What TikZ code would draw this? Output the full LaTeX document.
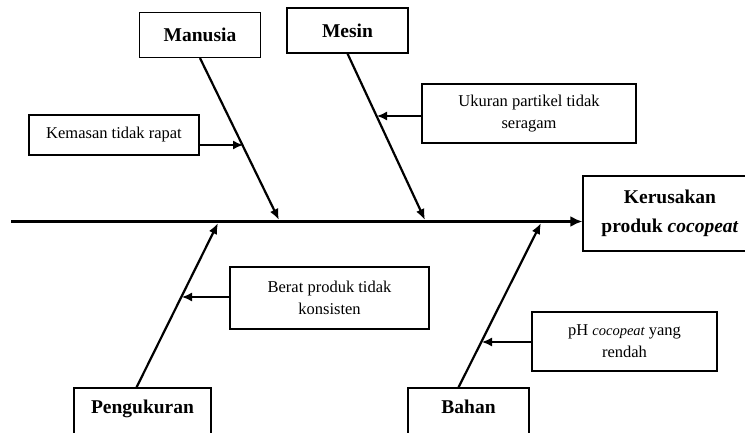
\documentclass[tikz,border=0pt]{standalone}
\usepackage{fontspec}
\setmainfont{Liberation Serif}
\usetikzlibrary{arrows.meta}

\begin{document}
\begin{tikzpicture}[x=1pt,y=-1pt]
    \tikzstyle{every node}=[draw,line width=1.2pt,inner sep=0pt,align=center]
    \tikzstyle{cause}=[font=\fontsize{19.5}{29}\selectfont\bfseries,minimum width=121pt,minimum height=45pt]
    \tikzstyle{base cause}=[cause,minimum height=0pt,text height=25pt,text depth=35pt,anchor=base]
    \tikzstyle{sub}=[font=\fontsize{16.5}{22}\selectfont]
    \tikzstyle{bone}=[line width=2.2pt,-{Latex[length=11pt,width=9pt]}]
    \tikzstyle{twig}=[line width=1.5pt,-{Latex[length=10pt,width=9pt]}]
    \clip (0,0) rectangle (745,433);
    % kepala dan kategori
    \node[cause,minimum width=174pt,minimum height=75pt] (akibat) at (670,213.5) {Kerusakan\\produk \textit{cocopeat}};
    \node[cause] (man) at (200,35) {Manusia};
    \node[cause] (msn) at (347.5,30.5) {Mesin};
    \node[base cause,minimum width=137pt] (ukr) at (142.5,413) {Pengukuran};
    \node[base cause] (bhn) at (468.5,413) {Bahan};
    % sebab
    \node[sub,minimum width=170pt,minimum height=40pt] (kms) at (114,135) {Kemasan tidak rapat};
    \node[sub,minimum width=214pt,minimum height=59pt] (prt) at (529,113.5) {Ukuran partikel tidak\\seragam};
    \node[sub,minimum width=199pt,minimum height=62pt] (brt) at (329.5,298) {Berat produk tidak\\konsisten};
    \node[sub,minimum width=185pt,minimum height=59pt] (ph) at (624.5,341.5) {pH {\fontsize{14.5}{22}\selectfont\itshape cocopeat} yang\\rendah};
    % tulang utama
    \coordinate (ekor) at (11,221.5);
    \draw[line width=3.5pt,-{Latex[length=12pt,width=11pt]}] (ekor) -- (ekor -| akibat.west);
    \coordinate (t1) at (279,220);
    \coordinate (t2) at (425,220);
    \coordinate (t3) at (218,223);
    \coordinate (t4) at (541,223);
    \draw[bone] (man.south) -- (t1);
    \draw[bone] (msn.south) -- (t2);
    \draw[bone] ([xshift=-6pt]ukr.north) -- (t3);
    \draw[bone] ([xshift=-10pt]bhn.north) -- (t4);
    % panah sebab
    \coordinate (p1) at (243,145);
    \coordinate (p2) at (377,116);
    \coordinate (p3) at (182,297);
    \coordinate (p4) at (482,342);
    \draw[twig] (kms.east |- p1) -- (p1);
    \draw[twig] (prt.west |- p2) -- (p2);
    \draw[twig] (brt.west |- p3) -- (p3);
    \draw[twig] (ph.west |- p4) -- (p4);
\end{tikzpicture}
\end{document}
